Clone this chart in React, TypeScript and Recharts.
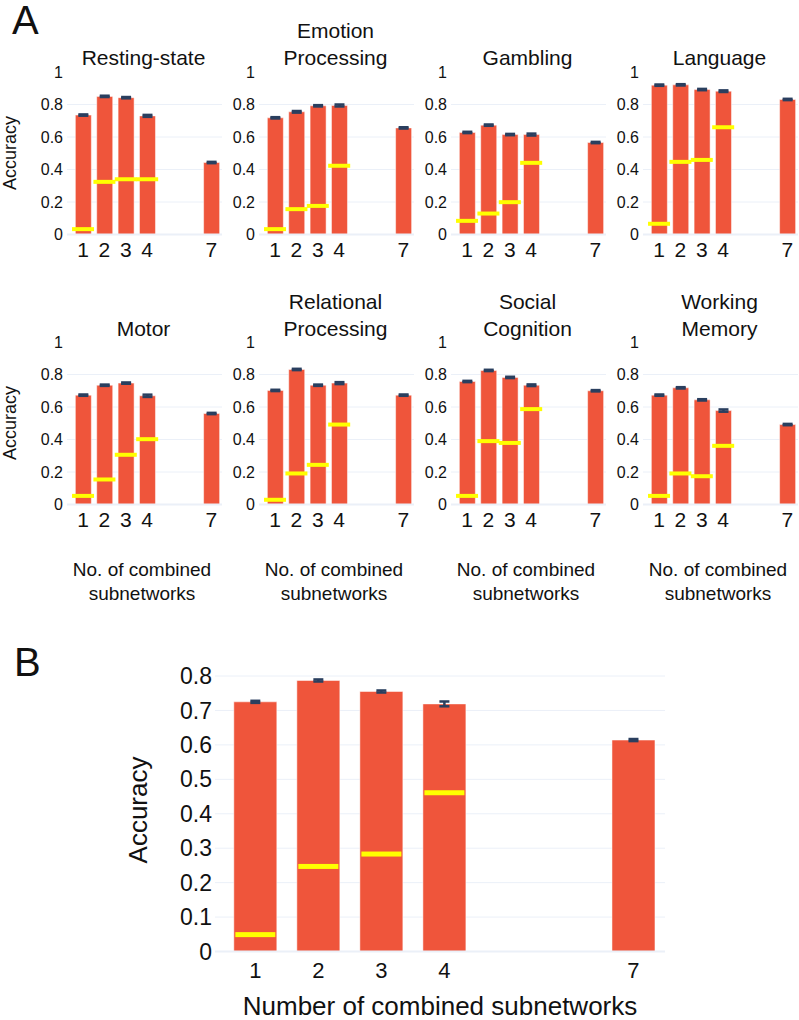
import { ComposedChart, Bar, Scatter, XAxis, YAxis, CartesianGrid, ErrorBar, ReferenceLine } from 'recharts';

const FONT = '"Liberation Sans", Arial, Helvetica, sans-serif';
const BAR = '#EF553B';
const CHANCE = '#FFFF00';
const ERR = '#2A3F5F';
const GRID = '#EBF0F8';
const TEXT = '#111';

// x positions: number of combined subnetworks
const subnetCounts = [1, 2, 3, 4, 7];
const smallTicks = [0, 0.2, 0.4, 0.6, 0.8, 1];
const bigTicks = [0, 0.1, 0.2, 0.3, 0.4, 0.5, 0.6, 0.7, 0.8];

// panel A, one set per task (accuracy, error, chance level for 1-4)
const restingAcc = [0.735, 0.85, 0.842, 0.73, 0.443];
const restingErr = [0.004, 0.004, 0.004, 0.006, 0.004];
const restingChance = [0.033, 0.324, 0.34, 0.34];

const emotionAcc = [0.718, 0.755, 0.792, 0.794, 0.656];
const emotionErr = [0.004, 0.005, 0.004, 0.006, 0.004];
const emotionChance = [0.033, 0.156, 0.176, 0.423];

const gamblingAcc = [0.628, 0.673, 0.615, 0.615, 0.566];
const gamblingErr = [0.004, 0.004, 0.004, 0.006, 0.004];
const gamblingChance = [0.084, 0.129, 0.199, 0.441];

const languageAcc = [0.919, 0.921, 0.892, 0.882, 0.831];
const languageErr = [0.004, 0.004, 0.004, 0.005, 0.004];
const languageChance = [0.066, 0.447, 0.459, 0.66];

const motorAcc = [0.673, 0.734, 0.747, 0.669, 0.56];
const motorErr = [0.004, 0.004, 0.004, 0.007, 0.004];
const motorChance = [0.053, 0.154, 0.306, 0.402];

const relationalAcc = [0.702, 0.831, 0.734, 0.747, 0.673];
const relationalErr = [0.004, 0.004, 0.004, 0.006, 0.004];
const relationalChance = [0.029, 0.191, 0.244, 0.492];

const socialAcc = [0.757, 0.825, 0.782, 0.734, 0.7];
const socialErr = [0.004, 0.004, 0.004, 0.005, 0.004];
const socialChance = [0.053, 0.39, 0.379, 0.587];

const workingAcc = [0.673, 0.718, 0.644, 0.578, 0.492];
const workingErr = [0.004, 0.004, 0.004, 0.007, 0.004];
const workingChance = [0.053, 0.191, 0.174, 0.361];

// panel B, averaged over tasks
const overallAcc = [0.725, 0.787, 0.755, 0.719, 0.614];
const overallErr = [0.003, 0.003, 0.003, 0.007, 0.003];
const overallChance = [0.049, 0.247, 0.283, 0.461];

const tasks = [
  { title: ['Resting-state'], acc: restingAcc, err: restingErr, chance: restingChance },
  { title: ['Emotion', 'Processing'], acc: emotionAcc, err: emotionErr, chance: emotionChance },
  { title: ['Gambling'], acc: gamblingAcc, err: gamblingErr, chance: gamblingChance },
  { title: ['Language'], acc: languageAcc, err: languageErr, chance: languageChance },
  { title: ['Motor'], acc: motorAcc, err: motorErr, chance: motorChance },
  { title: ['Relational', 'Processing'], acc: relationalAcc, err: relationalErr, chance: relationalChance },
  { title: ['Social', 'Cognition'], acc: socialAcc, err: socialErr, chance: socialChance },
  { title: ['Working', 'Memory'], acc: workingAcc, err: workingErr, chance: workingChance },
];

const colLeft = [67, 259, 451, 643];
const rowTop = [72, 342];
const PW = 155;
const PH = 162.5;

function Txt({ x, y, size, text, rotate = false }: any) {
  return (
    <div
      style={{
        position: 'absolute',
        left: x,
        top: y,
        transform: `translate(-50%, -50%)${rotate ? ' rotate(-90deg)' : ''}`,
        fontSize: size,
        lineHeight: 1,
        whiteSpace: 'nowrap',
        fontFamily: FONT,
        color: TEXT,
      }}
    >
      {text}
    </div>
  );
}

const chanceMark = (w: number, h: number) => (p: any) =>
  <rect x={p.cx - w / 2} y={p.cy - h / 2} width={w} height={h} fill={CHANCE} />;

function TaskChart({ task, left, top }: any) {
  const rows = subnetCounts.map((n, i) => ({ n, acc: task.acc[i], err: task.err[i] }));
  const chanceRows = task.chance.map((c: number, i: number) => ({ n: subnetCounts[i], chance: c }));
  return (
    <div style={{ position: 'absolute', left: left - 40, top: top - 10 }}>
      <ComposedChart width={40 + PW + 2} height={10 + PH + 30} data={rows} margin={{ top: 10, right: 2, bottom: 0, left: 0 }}>
        <CartesianGrid vertical={false} horizontalValues={[0.2, 0.4, 0.6, 0.8]} stroke={GRID} />
        <ReferenceLine y={0} stroke={GRID} strokeWidth={2} />
        <XAxis
          type="number"
          dataKey="n"
          domain={[0.25, 7.5]}
          ticks={subnetCounts}
          height={30}
          axisLine={false}
          tickLine={false}
          tickSize={6}
          tickMargin={2}
          tick={{ fill: TEXT, fontSize: 21, fontFamily: FONT }}
        />
        <YAxis
          type="number"
          domain={[0, 1]}
          ticks={smallTicks}
          width={40}
          axisLine={false}
          tickLine={false}
          tickSize={2}
          tickMargin={2}
          tick={{ fill: TEXT, fontSize: 16, fontFamily: FONT }}
        />
        <Bar dataKey="acc" barSize={16} fill={BAR} stroke="#ffffff" strokeWidth={0.5} isAnimationActive={false}>
          <ErrorBar dataKey="err" direction="y" width={5} stroke={ERR} strokeWidth={2.5} />
        </Bar>
        <Scatter data={chanceRows} dataKey="chance" shape={chanceMark(22, 4)} isAnimationActive={false} />
      </ComposedChart>
    </div>
  );
}

export default function App() {
  const bRows = subnetCounts.map((n, i) => ({ n, acc: overallAcc[i], err: overallErr[i] }));
  const bChance = overallChance.map((c, i) => ({ n: subnetCounts[i], chance: c }));
  const bLeft = 215;
  const bTop = 675.5;
  const bW = 450;
  const bH = 275.5;

  return (
    <div style={{ position: 'absolute', left: 0, top: 0, width: 799, height: 1020, background: '#fff', fontFamily: FONT }}>
      <div style={{ position: 'absolute', left: 12, top: 0, fontSize: 40, lineHeight: 1, fontFamily: FONT, color: TEXT }}>A</div>
      <div style={{ position: 'absolute', left: 14, top: 642, fontSize: 40, lineHeight: 1, fontFamily: FONT, color: TEXT }}>B</div>

      {tasks.map((t, i) => {
        const left = colLeft[i % 4];
        const row = Math.floor(i / 4);
        const top = rowTop[row];
        const cx = left + 76.5;
        const lastLine = row === 0 ? 57 : 328;
        return (
          <div key={i}>
            {t.title.map((line, j) => (
              <Txt key={j} x={cx} y={lastLine - (t.title.length - 1 - j) * 27.5} size={21} text={line} />
            ))}
            <TaskChart task={t} left={left} top={top} />
            {row === 1 && (
              <>
                <Txt x={left + 75} y={569} size={19} text="No. of combined" />
                <Txt x={left + 75} y={593} size={19} text="subnetworks" />
              </>
            )}
          </div>
        );
      })}
      <Txt x={10} y={153} size={18} text="Accuracy" rotate />
      <Txt x={10} y={423} size={18} text="Accuracy" rotate />

      <div style={{ position: 'absolute', left: bLeft - 60, top: bTop - 14 }}>
        <ComposedChart width={60 + bW + 5} height={14 + bH + 40} data={bRows} margin={{ top: 14, right: 5, bottom: 0, left: 0 }}>
          <CartesianGrid vertical={false} horizontalValues={bigTicks.slice(1)} stroke={GRID} />
          <ReferenceLine y={0} stroke={GRID} strokeWidth={2} />
          <XAxis
            type="number"
            dataKey="n"
            domain={[0.36, 7.5]}
            ticks={subnetCounts}
            height={40}
            axisLine={false}
            tickLine={false}
            tickSize={6}
            tickMargin={5}
            tick={{ fill: TEXT, fontSize: 22, fontFamily: FONT }}
          />
          <YAxis
            type="number"
            domain={[0, 0.8]}
            ticks={bigTicks}
            width={60}
            axisLine={false}
            tickLine={false}
            tickSize={0}
            tickMargin={3}
            tick={{ fill: TEXT, fontSize: 23, fontFamily: FONT }}
          />
          <Bar dataKey="acc" barSize={43} fill={BAR} stroke="#ffffff" strokeWidth={0.5} isAnimationActive={false}>
            <ErrorBar dataKey="err" direction="y" width={5} stroke={ERR} strokeWidth={2.5} />
          </Bar>
          <Scatter data={bChance} dataKey="chance" shape={chanceMark(40, 5)} isAnimationActive={false} />
        </ComposedChart>
      </div>
      <Txt x={138} y={810} size={26} text="Accuracy" rotate />
      <Txt x={440} y={1006} size={26} text="Number of combined subnetworks" />
    </div>
  );
}
